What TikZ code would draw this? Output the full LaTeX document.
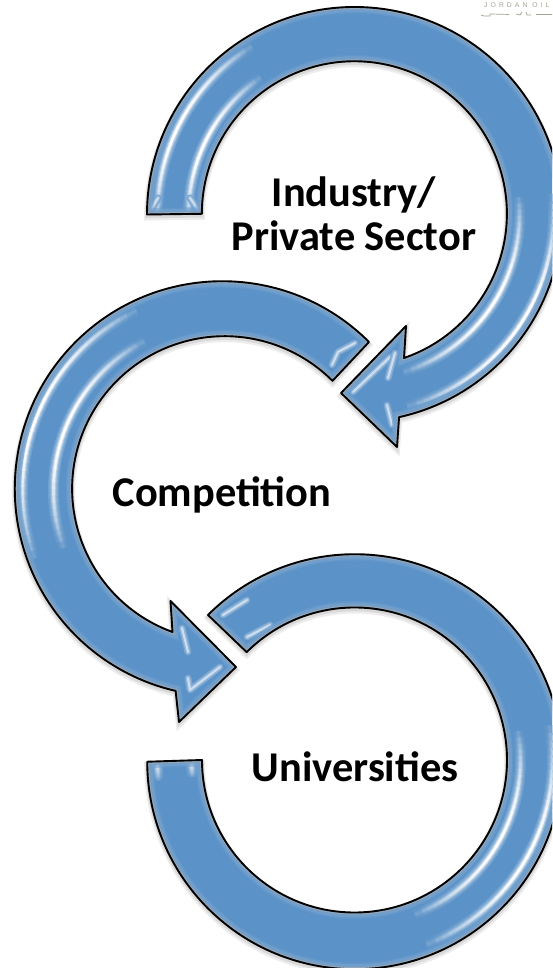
\documentclass[tikz,border=0pt]{standalone}
\usepackage{fontspec}
\setmainfont{Carlito}
\newfontfamily\logofont[LetterSpace=45]{Liberation Sans}
\definecolor{bodyblue}{HTML}{5B92C7}
\definecolor{logogray}{HTML}{A3A394}
\newcommand{\streak}[4]{% centre, radius, from angle, to angle
  \foreach \wid/\mix in {11/0.16,8/0.32,5.5/0.55,3.5/0.8,2.2/1.0}{
    \foreach \i in {1,...,36}{
      \pgfmathsetmacro{\aone}{#3+(#4-#3)*(\i-1)/36}
      \pgfmathsetmacro{\atwo}{#3+(#4-#3)*(\i+0.3)/36}
      \pgfmathsetmacro{\q}{100*\mix*sin(180*(\i-0.5)/36)^0.6}
      \draw[white!\q!bodyblue,line width=\wid] ([shift={(#1)}]\aone:#2)
        arc[start angle=\aone,end angle=\atwo,radius=#2];
    }
  }
}
\newcommand{\glint}[1]{% soft light stroke
  \draw[white!18!bodyblue,line width=7,line cap=round,line join=round] #1;
  \draw[white!36!bodyblue,line width=4.5,line cap=round,line join=round] #1;
  \draw[white!70!bodyblue,line width=2,line cap=round,line join=round] #1;
}
\newcommand{\bevelbody}[2]{% outline, highlights
  \draw[gray!14,line width=6,yshift=-3] #1;
  \draw[gray!30,line width=3.5,yshift=-2] #1;
  \fill[bodyblue] #1;
  \begin{scope}
    \clip #1;
    #2
    \draw[bodyblue!90!white,line width=13,opacity=0.5] #1;
    \draw[bodyblue!80!white,line width=10,opacity=0.5] #1;
    \draw[bodyblue!68!gray!85!white,line width=7,opacity=0.6] #1;
    \draw[bodyblue!50!gray!70!white,line width=4,opacity=0.8] #1;
  \end{scope}
  \draw[black,line width=1.9,line join=round] #1;
}
\def\pathindustry{(147,753.5) arc[start angle=180,end angle=-77.6,radius=207.5]
  -- (397,521) -- (341,575) -- (406,642) -- (404,610)
  arc[start angle=-71,end angle=180,radius=152.5] -- cycle}
\def\pathcompetition{(369,626) arc[start angle=45,end angle=257,radius=207.5]
  -- (179,246) -- (236,301) -- (170.5,367) -- (172.5,336)
  arc[start angle=250,end angle=45,radius=152.5] -- cycle}
\def\pathuniversities{(208,353) arc[start angle=135,end angle=-180,radius=207.5]
  -- (202,208) arc[start angle=180,end angle=495,radius=152.5] -- cycle}
\begin{document}
\begin{tikzpicture}
  [x=1pt,y=1pt,
   label/.style={font=\fontsize{42.4}{44.5}\selectfont\bfseries,align=center,anchor=base,inner sep=0}]
  \clip (0,0) rectangle (552,968);
  \fill[white] (0,0) rectangle (552,968);
  \coordinate (ca) at (354.5,753.5);
  \coordinate (cb) at (221.5,477.5);
  \coordinate (cc) at (354.5,208);
  % top arrow
  \bevelbody{\pathindustry}{
    \streak{ca}{197}{186}{122}
    \streak{ca}{166}{186}{125}
    \streak{ca}{199}{6}{-74}
    \streak{ca}{165}{6}{-72}
    \glint{(158,770) -- (152,760)}
    \glint{(190,770) -- (197,760)}
    \glint{(353,576) -- (390,611)}
    \glint{(388,590) -- (395,615)}
    \glint{(387,563) -- (392,543)}
  }
  % middle arrow
  \bevelbody{\pathcompetition}{
    \streak{cb}{199}{200}{116}
    \streak{cb}{168}{200}{118}
    \glint{(332,603) -- (338,616) -- (355,625)}
    \glint{(182,340) -- (188,316)}
    \glint{(220,301) -- (190,278) -- (188,290)}
  }
  % bottom arrow
  \bevelbody{\pathuniversities}{
    \streak{cc}{198}{10}{-68}
    \streak{cc}{166}{10}{-68}
    \streak{cc}{197}{186}{166}
    \streak{cc}{163}{186}{166}
    \glint{(223,353) -- (247,368)}
    \glint{(247,331) -- (270,343)}
  }
  \node[label] (industry) at (354,761) {Industry/};
  \node[label] (sector) at (354,717) {Private Sector};
  \node[label] (competition) at (222,461) {Competition};
  \node[label] (universities) at (355,186) {Universities};
  % logo, top corner
  \node[anchor=west,inner sep=0,text=logogray,font=\logofont\fontsize{6.8}{7}\selectfont]
    (jordan) at (484,963) {JORDAN OIL};
  \draw[logogray,line width=0.7] (481,953) -- (484,952) -- (490,952) -- (490,954) -- (509,953.5)
    (516,954) -- (520,953) -- (522,956) (526,956) -- (527,953) -- (531,953) (536,953.5) -- (552,953.5);
\end{tikzpicture}
\end{document}
